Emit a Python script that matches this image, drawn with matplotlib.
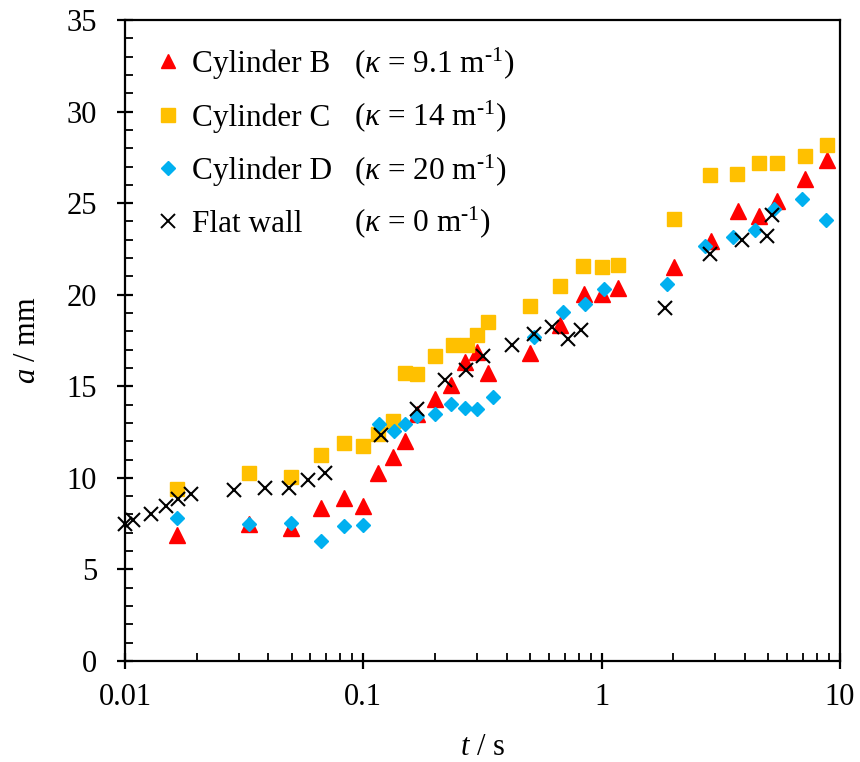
import matplotlib
matplotlib.use("Agg")
import matplotlib.pyplot as plt
from matplotlib.ticker import MultipleLocator, LogLocator, FixedLocator, NullFormatter
from matplotlib.lines import Line2D
from matplotlib.transforms import blended_transform_factory

plt.rcParams['font.family'] = ['Liberation Serif', 'DejaVu Serif']
plt.rcParams['mathtext.fontset'] = 'custom'
plt.rcParams['mathtext.rm'] = 'Liberation Serif'
plt.rcParams['mathtext.it'] = 'Liberation Serif:italic'
plt.rcParams['mathtext.bf'] = 'Liberation Serif:bold'

# ---- data ----
b_t = [0.0165, 0.033, 0.0495, 0.0665, 0.083, 0.0995, 0.1157, 0.133, 0.150, 0.168, 0.200, 0.234,
       0.267, 0.299, 0.335, 0.500, 0.671, 0.84, 1.0, 1.17, 2.02, 2.88, 3.74, 4.57, 5.42, 7.13, 8.81]
b_a = [6.87, 7.5, 7.24, 8.36, 8.9, 8.45, 10.25, 11.14, 12.0, 13.5, 14.32, 15.05,
       16.32, 16.87, 15.72, 16.81, 18.32, 20.05, 20.05, 20.38, 21.54, 22.92, 24.55, 24.32, 25.14, 26.31, 27.35]

c_t = [0.0165, 0.033, 0.0495, 0.0663, 0.0832, 0.0994, 0.115, 0.133, 0.149, 0.168, 0.1994, 0.238,
       0.271, 0.299, 0.335, 0.501, 0.671, 0.837, 1.007, 1.175, 2.02, 2.86, 3.71, 4.57, 5.42, 7.13, 8.81]
c_a = [9.38, 10.27, 10.05, 11.23, 11.9, 11.74, 12.4, 13.1, 15.72, 15.65, 16.68, 17.23,
       17.23, 17.78, 18.5, 19.38, 20.45, 21.55, 21.5, 21.63, 24.14, 26.55, 26.59, 27.19, 27.19, 27.55, 28.19]

d_t = [0.0165, 0.033, 0.0495, 0.0665, 0.083, 0.0995, 0.116, 0.134, 0.150, 0.168, 0.200, 0.234,
       0.267, 0.300, 0.351, 0.518, 0.689, 0.855, 1.02, 1.875, 2.72, 3.56, 4.39, 5.3, 6.95, 8.73]
d_a = [7.83, 7.47, 7.56, 6.56, 7.38, 7.42, 12.94, 12.56, 12.92, 13.36, 13.5, 14.01,
       13.83, 13.77, 14.41, 17.7, 19.05, 19.52, 20.31, 20.56, 22.68, 23.17, 23.54, 24.67, 25.22, 24.08]

f_t = [0.0100, 0.0108, 0.0128, 0.0148, 0.01675, 0.0189, 0.0288, 0.0388, 0.0487, 0.0588, 0.0689,
       0.119, 0.168, 0.220, 0.269, 0.319, 0.42, 0.522, 0.62, 0.721, 0.82, 1.85, 2.86, 3.88, 4.92, 5.2]
f_a = [7.5, 7.72, 8.05, 8.49, 8.82, 9.14, 9.36, 9.47, 9.47, 9.87, 10.29,
       12.32, 13.77, 15.36, 15.87, 16.63, 17.23, 17.87, 18.23, 17.59, 18.09, 19.28, 22.23, 22.99, 23.23, 24.35]

names = ["Cylinder B", "Cylinder C", "Cylinder D", "Flat wall"]
kappas = [r"($\kappa$ = 9.1 m$^{\mathregular{\text{-}1}}$)",
          r"($\kappa$ = 14 m$^{\mathregular{\text{-}1}}$)",
          r"($\kappa$ = 20 m$^{\mathregular{\text{-}1}}$)",
          r"($\kappa$ = 0 m$^{\mathregular{\text{-}1}}$)"]
xticks = [0.01, 0.1, 1, 10]
xticklabels = ["0.01", "0.1", "1", "10"]

RED, YEL, BLU = "#FF0000", "#FFC000", "#00B0F0"
FS = 22.5

fig = plt.figure(figsize=(8.6, 7.62), dpi=100)
ax = fig.add_axes([125/860, 1-661/762, 715/860, 641/762])

ax.plot(b_t, b_a, ls='none', marker='^', ms=11, color=RED, mec=RED, clip_on=False, zorder=3)
ax.plot(c_t, c_a, ls='none', marker='s', ms=10.5, color=YEL, mec=YEL, clip_on=False, zorder=3)
ax.plot(d_t, d_a, ls='none', marker='D', ms=7.5, color=BLU, mec=BLU, clip_on=False, zorder=3)
ax.plot(f_t, f_a, ls='none', marker='x', ms=10, mew=1.5, color='black', clip_on=False, zorder=4)

ax.set_xscale('log')
ax.set_xlim(0.01, 10)
ax.set_ylim(0, 35)
ax.xaxis.set_major_locator(FixedLocator(xticks))
ax.set_xticklabels(xticklabels)
ax.xaxis.set_minor_locator(LogLocator(base=10, subs=range(2, 10)))
ax.xaxis.set_minor_formatter(NullFormatter())
ax.yaxis.set_major_locator(MultipleLocator(5))
ax.yaxis.set_minor_locator(MultipleLocator(1))

for s in ax.spines.values():
    s.set_linewidth(1.6)
ax.tick_params(which='major', direction='inout', length=12, width=1.6, labelsize=22, pad=10)
ax.tick_params(axis='y', which='major', pad=14)
ax.tick_params(which='minor', direction='in', length=5.5, width=1.3)

ax.set_xlabel(r"$t$ / s", fontsize=22, labelpad=15)
ax.set_ylabel(r"$a$ / mm", fontsize=22, labelpad=18)

handles = [Line2D([], [], ls='none', marker='^', ms=10.5, color=RED),
           Line2D([], [], ls='none', marker='s', ms=10, color=YEL),
           Line2D([], [], ls='none', marker='D', ms=7.2, color=BLU),
           Line2D([], [], ls='none', marker='x', ms=9.5, mew=1.4, color='black')]
leg = ax.legend(handles, names, loc='upper left', bbox_to_anchor=(9 / 715, 1 - 8 / 641),
                frameon=False, fontsize=FS, handlelength=0.8, handletextpad=0.35,
                labelspacing=0.76, borderaxespad=0.3, borderpad=0.4)

# second legend column (kappa values), aligned to the baselines of the legend names
fig.canvas.draw()
renderer = fig.canvas.get_renderer()
inv = fig.transFigure.inverted()
trans = blended_transform_factory(ax.transAxes, fig.transFigure)
for txt, kap in zip(leg.get_texts(), kappas):
    bb = txt.get_window_extent(renderer)
    _, _, lp_d = renderer.get_text_width_height_descent("lp", txt.get_fontproperties(), ismath=False)
    y_base = inv.transform((0, bb.y0 + lp_d))[1]
    ax.text((354 - 125) / 715, y_base, kap, transform=trans, fontsize=FS,
            ha='left', va='baseline')

fig.savefig("out.png", dpi=100)
